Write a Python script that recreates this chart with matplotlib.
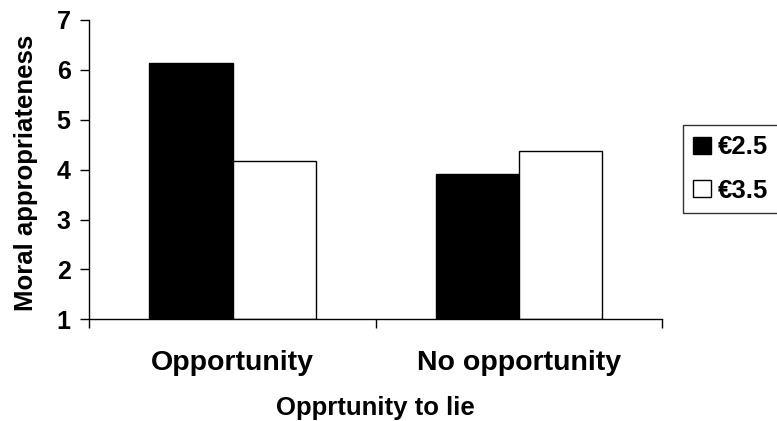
import matplotlib.pyplot as plt
import numpy as np

plt.rcParams['font.family'] = ['Liberation Sans', 'DejaVu Sans']
plt.rcParams['font.weight'] = 'bold'

categories = ['Opportunity', 'No opportunity']
series_names = ['€2.5', '€3.5']
low_reward = [6.14, 3.91]
high_reward = [4.17, 4.37]

fig = plt.figure(figsize=(7.77, 4.21), dpi=100)
ax = fig.add_axes([0.115, 0.2416, 0.737, 0.711])

x = np.arange(len(categories))
w = 0.29
ax.bar(x - w / 2, np.array(low_reward) - 1, w, bottom=1, color='black',
       edgecolor='black', linewidth=1, label=series_names[0])
ax.bar(x + w / 2, np.array(high_reward) - 1, w, bottom=1, color='white',
       edgecolor='black', linewidth=1, label=series_names[1])

ax.set_xlim(-0.5, 1.5)
ax.set_ylim(1, 7)
ax.set_yticks(range(1, 8))
ax.set_xticks(x)
ax.set_xticklabels(categories, fontsize=20.5, fontweight='bold')
ax.set_xticks([-0.5, 0.5, 1.5], minor=True)
ax.tick_params(axis='x', which='major', length=0, pad=22)
ax.tick_params(axis='x', which='minor', length=6.5, width=1, direction='out')
ax.tick_params(axis='y', length=6.5, width=1, labelsize=18, pad=7)
for lab in ax.get_yticklabels():
    lab.set_fontweight('bold')

ax.spines['top'].set_visible(False)
ax.spines['right'].set_visible(False)
for s in ('left', 'bottom'):
    ax.spines[s].set_linewidth(1)

ax.set_ylabel('Moral appropriateness', fontsize=18.5, fontweight='bold')
ax.yaxis.set_label_coords(-0.089, 0.49)
ax.set_xlabel('Opprtunity to lie', fontsize=18.5, fontweight='bold')
ax.xaxis.set_label_coords(0.5, -0.255)

leg = fig.legend(loc='upper left', bbox_to_anchor=(683 / 777, 1 - 125 / 421),
                 frameon=True, fancybox=False, edgecolor='black',
                 prop={'size': 18.5, 'weight': 'bold'}, handlelength=0.7,
                 handleheight=0.62, handletextpad=0.25, borderpad=0.4,
                 labelspacing=0.75, borderaxespad=0)
leg.get_frame().set_linewidth(1)

fig.savefig('out.png', dpi=100)
